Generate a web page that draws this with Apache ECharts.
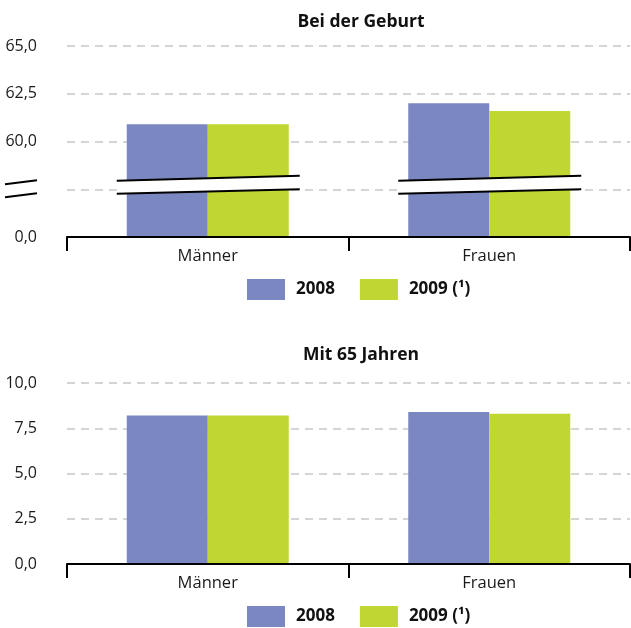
<!DOCTYPE html>
<html>
<head>
<meta charset="utf-8">
<script src="https://cdn.jsdelivr.net/npm/echarts@6/dist/echarts.min.js"></script>
<style>
  html, body { margin: 0; padding: 0; background: #fff; }
  #chart { width: 631px; height: 628px; }
</style>
</head>
<body>
<div id="chart"></div>
<script>
// Healthy life years, Germany
const categories = ['Männer', 'Frauen'];
const seriesNames = ['2008', '2009 (¹)'];

// At birth (axis is broken below 57,5)
const birth2008 = [60.9, 62.0];
const birth2009 = [60.9, 61.6];

// At age 65
const age65_2008 = [8.2, 8.4];
const age65_2009 = [8.2, 8.3];

const titles = ['Bei der Geburt', 'Mit 65 Jahren'];

// Tick labels of the broken axis: lowest tick stands for 0, second tick carries the break mark
const birthTicks = [55, 57.5, 60, 62.5, 65];
const birthTickLabels = ['0,0', '', '60,0', '62,5', '65,0'];
const age65Ticks = [0, 2.5, 5, 7.5, 10];
const age65TickLabels = ['0,0', '2,5', '5,0', '7,5', '10,0'];

const colors = ['#7b87c1', '#c0d632'];
const FONT = '"Open Sans", sans-serif';

const chart = echarts.init(document.getElementById('chart'), null, { renderer: 'canvas' });

function tickFormatter(ticks, labels) {
  return function (v) {
    const i = ticks.findIndex(t => Math.abs(t - v) < 1e-6);
    return i >= 0 ? labels[i] : '';
  };
}

const gridLeft = 67;
const grids = [
  { left: gridLeft, right: 1, top: 46, height: 191 },
  { left: gridLeft, right: 1, top: 383, height: 181 }
];

function xAxisFor(idx) {
  return {
    type: 'category',
    gridIndex: idx,
    data: categories,
    boundaryGap: true,
    axisLine: { show: true, lineStyle: { color: '#000', width: 2 } },
    axisTick: { show: true, length: 14, lineStyle: { color: '#000', width: 2 } },
    axisLabel: { color: '#1a1a1a', fontFamily: FONT, fontSize: 16.5, margin: 11 },
    z: 5
  };
}

function yAxisFor(idx, min, max, ticks, labels) {
  return {
    type: 'value',
    gridIndex: idx,
    min: min,
    max: max,
    interval: 2.5,
    axisLine: { show: false },
    axisTick: { show: false },
    axisLabel: {
      color: '#1a1a1a', fontFamily: FONT, fontSize: 16, margin: 30,
      formatter: tickFormatter(ticks, labels)
    },
    splitLine: {
      show: true,
      lineStyle: { color: '#c8c8c8', width: 1.5, type: [8, 6] }
    }
  };
}

function barSeries(name, data, idx, color) {
  return {
    name: name,
    type: 'bar',
    xAxisIndex: idx,
    yAxisIndex: idx,
    data: data,
    barWidth: 81,
    barGap: '0%',
    itemStyle: { color: color },
    emphasis: { disabled: true },
    z: 3
  };
}

function legendFor(top) {
  return {
    top: top,
    left: 247,
    padding: 0,
    itemWidth: 38,
    itemHeight: 21,
    itemGap: 25,
    icon: 'rect',
    selectedMode: false,
    data: seriesNames,
    textStyle: { fontFamily: FONT, fontSize: 17, fontWeight: 'bold', color: '#111', padding: [0, 0, 0, 6] }
  };
}

chart.setOption({
  animation: false,
  backgroundColor: '#fff',
  title: [
    { text: titles[0], left: 356, top: 8, textAlign: 'center',
      textStyle: { fontFamily: FONT, fontSize: 17.5, fontWeight: 'bold', color: '#111' } },
    { text: titles[1], left: 356, top: 341, textAlign: 'center',
      textStyle: { fontFamily: FONT, fontSize: 17.5, fontWeight: 'bold', color: '#111' } }
  ],
  legend: [legendFor(279), legendFor(606)],
  grid: grids,
  xAxis: [xAxisFor(0), xAxisFor(1)],
  yAxis: [
    yAxisFor(0, 55, 65, birthTicks, birthTickLabels),
    yAxisFor(1, 0, 10, age65Ticks, age65TickLabels)
  ],
  series: [
    barSeries(seriesNames[0], birth2008, 0, colors[0]),
    barSeries(seriesNames[1], birth2009, 0, colors[1]),
    barSeries(seriesNames[0], age65_2008, 1, colors[0]),
    barSeries(seriesNames[1], age65_2009, 1, colors[1])
  ]
});

// Axis-break marks on the first chart, placed from the axis scales
function breakMarks() {
  const yBreak = chart.convertToPixel({ yAxisIndex: 0 }, 57.5);
  const lineStyle = { stroke: '#000', lineWidth: 2 };
  const els = [];
  categories.forEach(function (cat) {
    const cx = chart.convertToPixel({ xAxisIndex: 0 }, cat);
    const x1 = cx - 91, x2 = cx + 92;
    const up1 = yBreak - 8.5, up2 = yBreak - 13.5;
    const lo1 = yBreak + 4.5, lo2 = yBreak;
    els.push({
      type: 'polygon', z: 100, silent: true,
      shape: { points: [[x1, up1], [x2, up2], [x2, lo2], [x1, lo1]] },
      style: { fill: '#fff' }
    });
    els.push({ type: 'line', z: 101, silent: true, shape: { x1: x1, y1: up1, x2: x2, y2: up2 }, style: lineStyle });
    els.push({ type: 'line', z: 101, silent: true, shape: { x1: x1, y1: lo1, x2: x2, y2: lo2 }, style: lineStyle });
  });
  // "//" sign in the tick-label column
  const ax1 = gridLeft - 62, ax2 = gridLeft - 30;
  els.push({ type: 'line', z: 101, silent: true, shape: { x1: ax1, y1: yBreak - 5, x2: ax2, y2: yBreak - 9 }, style: lineStyle });
  els.push({ type: 'line', z: 101, silent: true, shape: { x1: ax1, y1: yBreak + 8, x2: ax2, y2: yBreak + 4 }, style: lineStyle });
  chart.setOption({ graphic: els });
}
breakMarks();
</script>
</body>
</html>
